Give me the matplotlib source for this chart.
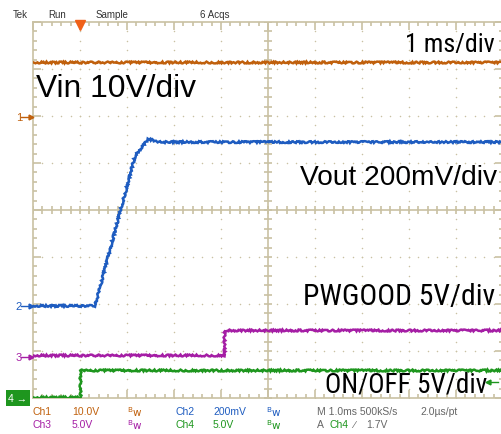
import matplotlib
matplotlib.use("Agg")
import matplotlib.pyplot as plt
import numpy as np

# time axis in ms (1 ms/div), trigger at t = 0
t_range = (-1.0, 9.0)
n_vdiv = 8

# channel ground markers (in divisions from bottom) and volts/div
ch_names = ["1", "2", "3", "4"]
ch_offset = [5.98, 1.96, 0.87, 0.0]
ch_scale = [10.0, 0.2, 5.0, 5.0]
ch_colors = ["#c0600c", "#1e5cc0", "#a51ea5", "#1e961e"]

# traces (time in ms, volts)
vin_t = [-1.0, 9.0]
vin_v = [11.7, 11.7]

vout_t = [-1.0, 0.32, 1.17, 1.45, 1.70, 9.0]
vout_v = [0.0, 0.0, 0.638, 0.710, 0.697, 0.697]

pwgood_t = [-1.0, 3.06, 3.06, 9.0]
pwgood_v = [0.2, 0.2, 2.87, 2.87]

onoff_t = [-1.0, 0.0, 0.0, 9.0]
onoff_v = [0.1, 0.1, 2.98, 2.98]

traces = [(vin_t, vin_v), (vout_t, vout_v), (pwgood_t, pwgood_v), (onoff_t, onoff_v)]
labels = ["Vin 10V/div", "Vout 200mV/div", "PWGOOD 5V/div", "ON/OFF 5V/div"]
trig_level = 1.7

W, H = 502, 435
grat = "#c9c1a3"
plt.rcParams["font.family"] = ["Liberation Sans", "DejaVu Sans"]
semi = ["Roboto Condensed", "Liberation Sans", "DejaVu Sans"]

fig = plt.figure(figsize=(W / 100, H / 100), dpi=100)
fig.patch.set_facecolor("white")
ax = fig.add_axes([33 / W, 36 / H, 470 / W, 376 / H])
ax.set_xlim(*t_range)
ax.set_ylim(0, n_vdiv)
renderer = fig.canvas.get_renderer()


def px(x, y):
    return x / W, 1 - y / H


def fit_text(x0, x1, y, s, family):
    # size the label so that it spans x0..x1 pixels
    t = fig.text(*px(x0, y), s, fontsize=20, family=family, ha="left", va="center")
    w = t.get_window_extent(renderer).width
    t.set_fontsize(20 * (x1 - x0) / w)
    return t


# graticule: dotted grid, centre cross with ticks, border ticks
for s in ax.spines.values():
    s.set_color(grat)
    s.set_linewidth(1.2)
ax.set_xticks(np.arange(-1, 9.01, 1))
ax.set_xticks(np.arange(-1, 9.01, 0.2), minor=True)
ax.set_yticks(np.arange(0, 8.01, 1))
ax.set_yticks(np.arange(0, 8.01, 0.2), minor=True)
ax.tick_params(which="both", direction="in", top=True, right=True,
               labelbottom=False, labelleft=False, color=grat, width=1.2)
ax.tick_params(which="major", length=6)
ax.tick_params(which="minor", length=3)

gx = np.arange(-1, 9.01, 0.2)
gy = np.arange(0, 8.01, 0.2)
for yl in range(1, 8):
    if yl != 4:
        ax.scatter(gx, np.full_like(gx, yl), s=1.2, color=grat, lw=0, zorder=1)
for xl in range(0, 9):
    if xl != 4:
        ax.scatter(np.full_like(gy, xl), gy, s=1.2, color=grat, lw=0, zorder=1)
ax.axhline(4, color=grat, lw=1.2, zorder=1)
ax.axvline(4, color=grat, lw=1.2, zorder=1)
ax.scatter(gx, np.full_like(gx, 4), marker="|", s=30, color=grat, lw=1.2, zorder=1)
ax.scatter(np.full_like(gy, 4), gy, marker="_", s=30, color=grat, lw=1.2, zorder=1)

# traces
for (tt, vv), off, sc, c in zip(traces, ch_offset, ch_scale, ch_colors):
    y = off + np.array(vv) / sc
    line, = ax.plot(tt, y, color=c, lw=1.8, zorder=3, solid_joinstyle="miter")
    line.set_sketch_params(scale=0.9, length=2.5, randomness=6)

# channel ground markers on the left
for name, off, c in zip(ch_names[:3], ch_offset[:3], ch_colors[:3]):
    ax.plot([-1.26, -1.02], [off, off], color=c, lw=1, clip_on=False, zorder=4)
    ax.plot([-1.04], [off], marker=">", ms=3.5, color=c, clip_on=False, zorder=4)
    fig.text(*px(19, (399 - off * 47)), name, color=c, fontsize=8,
             ha="center", va="center")
fig.text(*px(18, 399), "4 \u2192", color="white", fontsize=7.5, ha="center",
         va="center", bbox=dict(boxstyle="square,pad=0.25", fc=ch_colors[3], ec="none"))

# trigger position & level markers
ax.plot([0], [n_vdiv - 0.06], marker="v", ms=7, color="#f06018", clip_on=False, zorder=5)
trig_y = ch_offset[3] + trig_level / ch_scale[3]
ax.plot([8.66, 8.9], [trig_y, trig_y], color=ch_colors[3], lw=1, zorder=5)
ax.plot([8.68], [trig_y], marker="<", ms=3.5, color=ch_colors[3], zorder=5)

# big annotations
regular = ["Liberation Sans", "DejaVu Sans"]
fit_text(405, 495, 45, "1 ms/div", semi)
fit_text(36, 196, 89, labels[0], regular)
fit_text(300, 497, 178, labels[1], regular)
fit_text(303, 495, 297, labels[2], semi)
fit_text(325, 487, 385, labels[3], semi)

# scope header
hdr = "#333333"
fig.text(*px(13, 15), "Tek", fontsize=7, color=hdr, va="center")
fig.text(*px(48, 15), "Run", fontsize=7, color=hdr, va="center")
fig.text(*px(96, 15), "Sample", fontsize=7, color=hdr, va="center")
fig.text(*px(200, 15), "6 Acqs", fontsize=7, color=hdr, va="center")

# scope footer
bw = r"$^{\mathrm{B}}\mathrm{w}$"
gray = "#666666"
rows = [
    [(33, "Ch1", 0), (72, "10.0V", 0), (127, bw, 0), (175, "Ch2", 1), (213, "200mV", 1),
     (266, bw, 1), (317, "M 1.0ms 500kS/s", None), (420, "2.0\u00b5s/pt", None)],
    [(33, "Ch3", 2), (72, "5.0V", 2), (127, bw, 2), (175, "Ch4", 3), (213, "5.0V", 3),
     (266, bw, 3), (317, "A", None), (330, "Ch4", 3), (353, "\u2215", None), (366, "1.7V", None)],
]
for yy, row in zip([412, 425], rows):
    for xx, txt, ci in row:
        c = gray if ci is None else ch_colors[ci]
        fig.text(*px(xx, yy), txt, fontsize=7.5, color=c, va="center", ha="left")

fig.savefig("out.png", dpi=100, facecolor="white")
